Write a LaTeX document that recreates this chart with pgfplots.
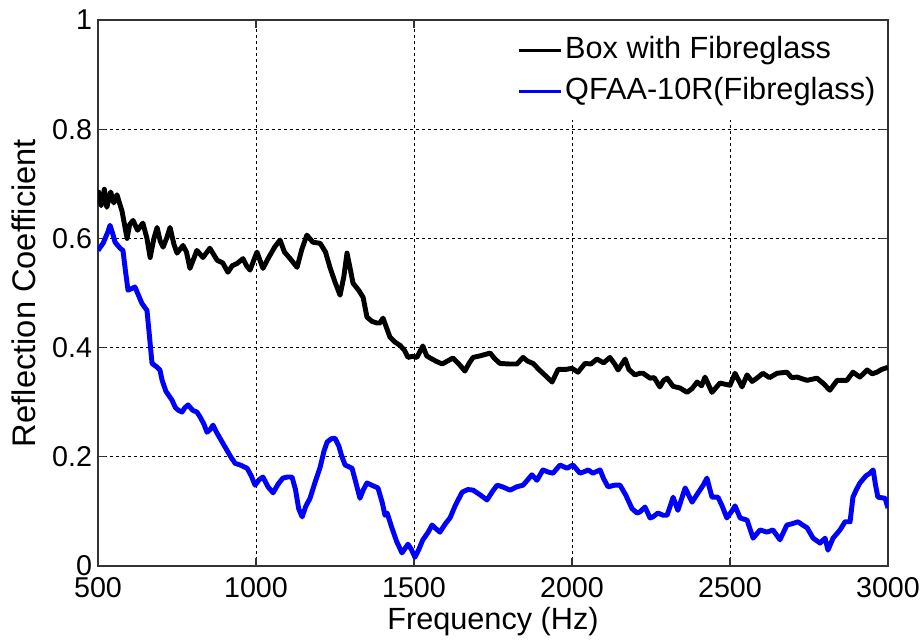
\documentclass[border=0pt]{standalone}
\usepackage{pgfplots}
\pgfplotsset{compat=1.18}
\usepackage{fontspec}
\setmainfont{Liberation Sans}
\begin{document}
\begin{tikzpicture}
\begin{axis}[
  scale only axis, width=592.5pt, height=409.5pt,
  xmin=500, xmax=3000, ymin=0, ymax=1,
  xtick={500,1000,1500,2000,2500,3000},
  ytick={0,0.2,0.4,0.6,0.8,1},
  /pgf/number format/assume math mode=true,
  /pgf/number format/1000 sep={},
  grid=major,
  grid style={black, dash pattern=on 2pt off 2.5pt, line width=0.6pt},
  tick align=inside, major tick length=6pt,
  axis line style={black!80, line width=0.8pt},
  tick style={black!80, line width=0.8pt},
  tick label style={font=\fontsize{21.5}{24}\selectfont},
  xticklabel style={anchor=base, yshift=-23.25pt},
  yticklabel style={anchor=east, xshift=-1pt},
  label style={font=\fontsize{23}{27}\selectfont},
  xlabel={Frequency (Hz)},
  ylabel={Reflection Coefficient},
  xlabel style={at={(axis description cs:0.5,-0.1172)}, anchor=base},
  ylabel style={at={(axis description cs:-0.079,0.5)}, anchor=base, font=\fontsize{24.5}{28}\selectfont},
  legend cell align=left,
  legend style={at={(rel axis cs:0.5205,0.998)}, anchor=north west, draw=none, fill=white,
    font=\fontsize{23}{27}\selectfont, inner xsep=6pt, inner ysep=8.7pt,
    nodes={text height=17pt, text depth=5pt, inner sep=2pt}, row sep=4.75pt},
  legend image code/.code={\draw[#1, line width=2.3pt] (0pt,0pt) -- (31.5pt,0pt);},
]
\addplot[black, line width=3.7pt, line join=round] coordinates {
(500,0.688)(510,0.66)(520,0.69)(528,0.657)(540,0.685)(550,0.665)(560,0.68)(576,0.65)
(592,0.60)(600,0.625)(611,0.633)(625,0.615)(642,0.628)(655,0.60)(665,0.565)(677,0.6)
(687,0.62)(697,0.595)(706,0.584)(717,0.60)(728,0.62)(740,0.59)(750,0.573)(769,0.587)
(780,0.575)(791,0.545)(813,0.578)(832,0.565)(854,0.582)(877,0.56)(895,0.555)(911,0.538)
(925,0.55)(940,0.554)(959,0.563)(970,0.55)(981,0.542)(1003,0.575)(1022,0.545)(1040,0.565)
(1060,0.585)(1076,0.597)(1090,0.575)(1108,0.563)(1130,0.547)(1145,0.58)(1161,0.606)(1180,0.593)
(1203,0.591)(1220,0.575)(1234,0.547)(1250,0.52)(1266,0.496)(1278,0.53)(1288,0.573)(1298,0.545)
(1307,0.518)(1325,0.505)(1339,0.492)(1351,0.456)(1367,0.448)(1383,0.445)(1392,0.445)(1402,0.454)
(1424,0.419)(1440,0.41)(1456,0.404)(1470,0.395)(1481,0.382)(1495,0.384)(1509,0.382)(1528,0.403)
(1540,0.385)(1551,0.381)(1570,0.375)(1589,0.37)(1605,0.375)(1623,0.381)(1642,0.37)(1661,0.357)
(1675,0.372)(1687,0.382)(1710,0.385)(1741,0.39)(1755,0.38)(1772,0.371)(1800,0.37)(1826,0.37)
(1845,0.382)(1860,0.375)(1877,0.371)(1895,0.36)(1908,0.353)(1937,0.337)(1956,0.36)(1980,0.36)
(2000,0.362)(2019,0.355)(2041,0.371)(2060,0.37)(2079,0.379)(2100,0.372)(2120,0.382)(2135,0.37)
(2146,0.359)(2168,0.379)(2180,0.36)(2199,0.35)(2215,0.353)(2225,0.353)(2247,0.344)(2260,0.345)
(2278,0.328)(2290,0.34)(2301,0.344)(2320,0.329)(2342,0.326)(2364,0.318)(2380,0.325)(2396,0.337)
(2410,0.33)(2421,0.346)(2443,0.318)(2468,0.335)(2500,0.331)(2516,0.353)(2538,0.328)(2554,0.35)
(2570,0.338)(2585,0.344)(2604,0.353)(2625,0.345)(2649,0.353)(2680,0.355)(2695,0.345)(2712,0.346)
(2744,0.34)(2775,0.344)(2794,0.335)(2816,0.322)(2839,0.34)(2870,0.34)(2889,0.355)(2911,0.346)
(2934,0.359)(2950,0.352)(2965,0.355)(2980,0.36)(3000,0.364)
};
\addlegendentry{Box with Fibreglass}
\addplot[blue, line width=3.7pt, line join=round] coordinates {
(500,0.578)(516,0.591)(530,0.61)(538,0.624)(546,0.61)(554,0.593)(570,0.582)(579,0.578)
(587,0.54)(595,0.505)(617,0.511)(639,0.481)(655,0.468)(663,0.42)(671,0.371)(685,0.365)
(696,0.359)(703,0.34)(715,0.32)(728,0.309)(734,0.304)(745,0.29)(755,0.285)(766,0.282)
(775,0.29)(785,0.295)(800,0.285)(813,0.282)(823,0.273)(835,0.26)(845,0.245)(855,0.25)
(864,0.258)(875,0.245)(890,0.23)(902,0.218)(920,0.2)(934,0.188)(950,0.185)(972,0.179)
(985,0.165)(997,0.148)(1010,0.158)(1022,0.163)(1038,0.145)(1054,0.134)(1070,0.15)(1085,0.161)
(1100,0.163)(1114,0.163)(1125,0.14)(1135,0.105)(1146,0.09)(1158,0.11)(1171,0.124)(1185,0.15)
(1203,0.181)(1215,0.21)(1225,0.227)(1238,0.233)(1250,0.234)(1262,0.22)(1272,0.2)(1282,0.185)
(1304,0.179)(1315,0.155)(1329,0.124)(1340,0.14)(1351,0.152)(1370,0.147)(1386,0.143)(1400,0.115)
(1408,0.093)(1415,0.097)(1430,0.07)(1445,0.045)(1462,0.024)(1481,0.04)(1492,0.03)(1503,0.016)
(1515,0.03)(1528,0.048)(1545,0.062)(1557,0.075)(1570,0.068)(1582,0.062)(1600,0.078)(1614,0.088)
(1630,0.11)(1652,0.135)(1670,0.14)(1687,0.139)(1710,0.13)(1731,0.121)(1750,0.138)(1763,0.148)
(1780,0.145)(1804,0.139)(1825,0.145)(1845,0.148)(1860,0.158)(1873,0.167)(1889,0.157)(1908,0.176)
(1925,0.172)(1940,0.17)(1962,0.185)(1984,0.179)(2003,0.185)(2025,0.17)(2040,0.173)(2051,0.176)
(2066,0.17)(2089,0.176)(2100,0.16)(2114,0.145)(2135,0.148)(2152,0.148)(2170,0.13)(2190,0.105)
(2206,0.097)(2215,0.099)(2231,0.108)(2247,0.088)(2256,0.09)(2272,0.097)(2288,0.093)(2301,0.093)
(2320,0.126)(2335,0.102)(2358,0.143)(2380,0.117)(2399,0.134)(2415,0.148)(2427,0.161)(2443,0.126)
(2462,0.126)(2475,0.11)(2490,0.088)(2505,0.1)(2516,0.11)(2532,0.088)(2554,0.084)(2573,0.051)
(2595,0.066)(2617,0.062)(2636,0.066)(2658,0.048)(2680,0.075)(2700,0.078)(2715,0.081)(2730,0.075)
(2744,0.07)(2763,0.051)(2785,0.042)(2801,0.051)(2810,0.029)(2826,0.051)(2848,0.066)(2864,0.081)
(2880,0.081)(2889,0.126)(2900,0.14)(2911,0.152)(2930,0.165)(2943,0.17)(2953,0.176)(2960,0.15)
(2968,0.126)(2980,0.125)(2991,0.124)(3000,0.106)
};
\addlegendentry{QFAA-10R(Fibreglass)}
\end{axis}
\pgfresetboundingbox
\path ([shift={(-73.5pt,-54.75pt)}]current axis.south west) rectangle ([shift={(27pt,15pt)}]current axis.north east);
\end{tikzpicture}
\end{document}
